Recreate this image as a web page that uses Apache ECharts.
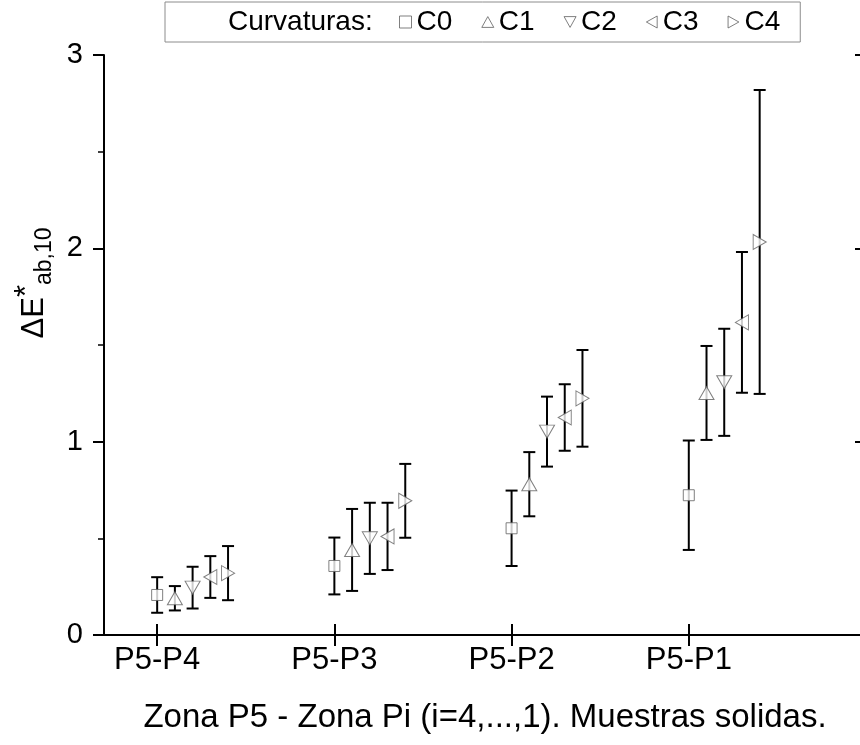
<!DOCTYPE html>
<html>
<head>
<meta charset="utf-8">
<script src="https://cdn.jsdelivr.net/npm/echarts@6/dist/echarts.min.js"></script>
<style>
  html, body { margin: 0; padding: 0; background: #fff; }
  #container { width: 860px; height: 745px; }
</style>
</head>
<body>
<div id="container"></div>
<script>
const dom = document.getElementById('container')
const myChart = echarts.init(dom)

const categories = ['P5-P4', 'P5-P3', 'P5-P2', 'P5-P1']
const curvatures = ['C0', 'C1', 'C2', 'C3', 'C4']

// mean values and half error bars, one entry per category
const c0 = [0.207, 0.357, 0.552, 0.723]
const c0Err = [0.092, 0.147, 0.195, 0.283]
const c1 = [0.19, 0.44, 0.78, 1.252]
const c1Err = [0.063, 0.212, 0.166, 0.243]
const c2 = [0.245, 0.5, 1.052, 1.307]
const c2Err = [0.108, 0.184, 0.181, 0.277]
const c3 = [0.3, 0.51, 1.125, 1.617]
const c3Err = [0.108, 0.174, 0.172, 0.364]
const c4 = [0.32, 0.694, 1.224, 2.033]
const c4Err = [0.14, 0.191, 0.25, 0.786]

const yTicks = [0, 1, 2, 3]

const means = [c0, c1, c2, c3, c4]
const errs = [c0Err, c1Err, c2Err, c3Err, c4Err]

const font = 'Liberation Sans, Arial, sans-serif'
const markColor = '#606060'
const symbols = [
    'rect',
    'path://M5,0 L10,9 L0,9 Z',
    'path://M0,0 L10,0 L5,9 Z',
    'path://M0,5 L9,0 L9,10 Z',
    'path://M0,0 L9,5 L0,10 Z'
]
const sizes = [11, [15, 13], [15, 13], [13, 15], [13, 15]]
const catX = categories.map((_, i) => i + 1)

const errorSeries = curvatures.map((name, k) => ({
    name: name + ' err',
    type: 'custom',
    z: 1,
    silent: true,
    data: means[k].map((v, i) => [catX[i] + 0.1 * k, v - errs[k][i], v + errs[k][i]]),
    renderItem: (params, api) => {
        const x = api.value(0)
        const lo = api.coord([x, api.value(1)])
        const hi = api.coord([x, api.value(2)])
        const w = 6
        const style = { stroke: '#000', lineWidth: 2 }
        return {
            type: 'group',
            children: [
                { type: 'line', shape: { x1: lo[0], y1: lo[1], x2: hi[0], y2: hi[1] }, style },
                { type: 'line', shape: { x1: hi[0] - w, y1: hi[1], x2: hi[0] + w, y2: hi[1] }, style },
                { type: 'line', shape: { x1: lo[0] - w, y1: lo[1], x2: lo[0] + w, y2: lo[1] }, style }
            ]
        }
    }
}))

const markSeries = curvatures.map((name, k) => ({
    name: name,
    type: 'scatter',
    z: 3,
    symbol: symbols[k],
    symbolSize: sizes[k],
    itemStyle: { color: '#fff', borderColor: markColor, borderWidth: 1 },
    emphasis: { disabled: true },
    data: means[k].map((v, i) => [catX[i] + 0.1 * k, v])
}))

const axisLine = { show: true, lineStyle: { color: '#000', width: 2 } }
const tickStyle = { color: '#000', width: 2 }

const option = {
    backgroundColor: '#fff',
    animation: false,
    textStyle: { fontFamily: font, color: '#000' },
    grid: { left: 104, right: -6, top: 55, bottom: 110, outerBoundsMode: 'none', containLabel: false },
    graphic: [
        {
            type: 'text',
            left: 228,
            top: 8,
            style: { text: 'Curvaturas:', font: '28px ' + font, fill: '#000' }
        }
    ],
    legend: {
        data: curvatures.map((n, k) => ({ name: n, icon: symbols[k] })),
        left: 165,
        top: 2,
        padding: [6, 20, 6, 234],
        itemWidth: 12,
        itemHeight: 12,
        itemGap: 29,
        borderColor: '#8c8c8c',
        borderWidth: 1,
        selectedMode: false,
        textStyle: { fontSize: 28, fontFamily: font, color: '#000' },
        itemStyle: { color: '#fff', borderColor: markColor, borderWidth: 1 }
    },
    xAxis: [
        {
            type: 'value',
            position: 'bottom',
            min: 0.7,
            max: 5.0,
            name: 'Zona P5 - Zona Pi (i=4,...,1). Muestras solidas.',
            nameLocation: 'middle',
            nameGap: 66,
            nameTextStyle: { fontSize: 33, fontFamily: font, color: '#000' },
            axisLine: axisLine,
            axisTick: { show: true, inside: true, length: 11, lineStyle: tickStyle, customValues: catX },
            axisLabel: {
                show: true,
                customValues: catX,
                margin: 10,
                fontSize: 31,
                fontFamily: font,
                color: '#000',
                formatter: (v) => categories[Math.round(v) - 1] || ''
            },
            splitLine: { show: false }
        },
        {
            type: 'value',
            position: 'top',
            min: 0.7,
            max: 5.0,
            axisLine: axisLine,
            axisTick: { show: true, inside: true, length: 11, lineStyle: tickStyle, customValues: catX },
            axisLabel: { show: false },
            splitLine: { show: false }
        }
    ],
    yAxis: [
        {
            type: 'value',
            position: 'left',
            min: 0,
            max: 3,
            interval: 1,
            name: '{d|ΔE}{s|*}{b|ab,10}',
            nameLocation: 'middle',
            nameRotate: 90,
            nameGap: 40,
            nameTextStyle: {
                padding: [0, 0, 0, 124],
                rich: {
                    d: { fontSize: 31, fontFamily: font, color: '#000', lineHeight: 44, verticalAlign: 'middle' },
                    s: { fontSize: 31, fontFamily: font, color: '#000', lineHeight: 44, verticalAlign: 'top' },
                    b: { fontSize: 23, fontFamily: font, color: '#000', lineHeight: 44, verticalAlign: 'bottom' }
                }
            },
            axisLine: axisLine,
            axisTick: { show: true, inside: false, length: 11, lineStyle: tickStyle },
            minorTick: { show: true, splitNumber: 2, length: 6, lineStyle: { color: '#000', width: 1.5 } },
            axisLabel: {
                margin: 21,
                fontSize: 29,
                fontFamily: font,
                color: '#000',
                formatter: (v) => (yTicks.includes(v) ? String(v) : '')
            },
            splitLine: { show: false }
        },
        {
            type: 'value',
            position: 'right',
            min: 0,
            max: 3,
            interval: 1,
            axisLine: axisLine,
            axisTick: { show: true, inside: true, length: 11, lineStyle: tickStyle },
            minorTick: { show: true, splitNumber: 2, length: 6, lineStyle: { color: '#000', width: 1 } },
            axisLabel: { show: false },
            splitLine: { show: false }
        }
    ],
    series: [...errorSeries, ...markSeries]
}

myChart.setOption(option)
</script>
</body>
</html>
